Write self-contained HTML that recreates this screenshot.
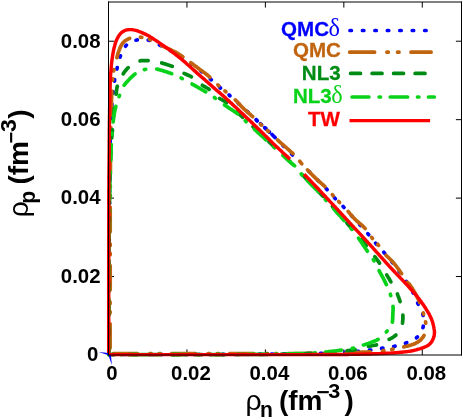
<!DOCTYPE html>
<html><head><meta charset="utf-8"><title>spinodal</title>
<style>html,body{margin:0;padding:0;background:#fff;}svg{display:block}text{font-family:"Liberation Sans",sans-serif;font-weight:bold}</style>
</head><body><div style="will-change:transform;width:463px;height:420px">
<svg width="463" height="420" viewBox="0 0 463 420">
<rect width="463" height="420" fill="#fff"/>
<g stroke="#000" stroke-width="1" fill="none">
<line x1="186.94" y1="355.0" x2="186.94" y2="349.4"/>
<line x1="186.94" y1="2.0" x2="186.94" y2="7.6"/>
<line x1="108.5" y1="276.56" x2="114.0" y2="276.56"/>
<line x1="461.5" y1="276.56" x2="455.9" y2="276.56"/>
<line x1="265.39" y1="355.0" x2="265.39" y2="349.4"/>
<line x1="265.39" y1="2.0" x2="265.39" y2="7.6"/>
<line x1="108.5" y1="198.11" x2="114.0" y2="198.11"/>
<line x1="461.5" y1="198.11" x2="455.9" y2="198.11"/>
<line x1="343.83" y1="355.0" x2="343.83" y2="349.4"/>
<line x1="343.83" y1="2.0" x2="343.83" y2="7.6"/>
<line x1="108.5" y1="119.67" x2="114.0" y2="119.67"/>
<line x1="461.5" y1="119.67" x2="455.9" y2="119.67"/>
<line x1="422.28" y1="355.0" x2="422.28" y2="349.4"/>
<line x1="422.28" y1="2.0" x2="422.28" y2="7.6"/>
<line x1="108.5" y1="41.22" x2="114.0" y2="41.22"/>
<line x1="461.5" y1="41.22" x2="455.9" y2="41.22"/>
</g>
<g fill="none" stroke-width="3.7" stroke-linecap="round" stroke-linejoin="round">
<path d="M109.0,354.5 L109.0,352.4 L109.0,351.2 L109.0,349.9 L109.0,348.5 L109.0,347.0 L109.0,345.4 L109.0,343.8 L109.0,342.0 L109.0,340.2 L109.0,338.3 L109.0,336.4 L109.0,334.4 L109.0,332.4 L109.0,330.4 L109.0,328.3 L109.0,326.2 L109.0,324.1 L109.0,322.0 L109.0,319.9 L109.0,317.7 L109.0,315.6 L109.0,313.5 L109.0,311.5 L109.0,309.5 L109.0,307.5 L109.0,305.5 L109.0,303.6 L109.0,301.8 L109.0,300.0 L109.0,298.3 L109.0,296.6 L109.0,294.9 L109.0,293.2 L109.0,291.5 L109.0,289.9 L109.0,288.2 L109.0,286.6 L109.0,285.0 L109.0,283.4 L109.0,281.8 L109.0,280.2 L109.0,278.6 L109.0,276.9 L109.0,275.3 L109.0,273.7 L109.0,272.1 L109.0,270.5 L109.0,268.9 L109.0,267.2 L109.0,265.6 L109.0,263.9 L109.0,262.3 L109.1,260.6 L109.1,258.9 L109.1,257.1 L109.1,255.4 L109.1,253.6 L109.1,251.8 L109.1,250.0 L109.1,248.1 L109.1,246.2 L109.1,244.3 L109.1,242.3 L109.2,240.3 L109.2,238.3 L109.2,236.3 L109.2,234.2 L109.2,232.1 L109.2,230.0 L109.3,227.9 L109.3,225.8 L109.3,223.6 L109.3,221.5 L109.3,219.4 L109.4,217.3 L109.4,215.1 L109.4,213.0 L109.4,211.0 L109.4,208.9 L109.4,206.8 L109.5,204.8 L109.5,202.8 L109.5,200.9 L109.5,199.0 L109.5,197.1 L109.6,195.2 L109.6,193.4 L109.6,191.7 L109.6,190.0 L109.6,188.4 L109.6,186.8 L109.6,185.2 L109.6,183.7 L109.7,182.2 L109.7,180.7 L109.7,179.3 L109.7,177.9 L109.7,176.5 L109.7,175.2 L109.7,173.9 L109.7,172.6 L109.7,171.3 L109.7,170.0 L109.7,168.8 L109.7,167.5 L109.8,166.3 L109.8,165.0 L109.8,163.8 L109.8,162.6 L109.8,161.4 L109.8,160.1 L109.8,158.9 L109.9,157.7 L109.9,156.4 L109.9,155.2 L109.9,153.9 L109.9,152.6 L110.0,151.3 L110.0,150.0 L110.0,148.7 L110.1,147.3 L110.1,146.0 L110.1,144.6 L110.2,143.2 L110.2,141.8 L110.2,140.4 L110.3,139.1 L110.3,137.7 L110.4,136.3 L110.4,134.9 L110.4,133.5 L110.5,132.1 L110.5,130.7 L110.6,129.3 L110.6,127.9 L110.7,126.6 L110.7,125.2 L110.8,123.9 L110.8,122.5 L110.9,121.2 L111.0,119.9 L111.0,118.6 L111.1,117.3 L111.2,116.0 L111.2,114.8 L111.3,113.6 L111.4,112.4 L111.4,111.2 L111.5,110.0 L111.6,108.8 L111.7,107.7 L111.7,106.6 L111.8,105.4 L111.9,104.3 L112.0,103.2 L112.1,102.1 L112.2,101.0 L112.3,99.9 L112.4,98.8 L112.5,97.8 L112.6,96.7 L112.7,95.7 L112.8,94.7 L112.9,93.7 L113.2,91.7 L113.4,89.8 L113.6,88.0 L113.8,86.2 L114.0,84.6 L114.2,83.0 L114.4,81.5 L114.6,80.1 L114.8,78.9 L114.9,77.8 L115.1,76.8 L115.3,75.5 L115.6,74.4 L115.8,73.4 L116.1,72.1 L116.5,70.9 L116.7,69.8 L117.0,68.7 L117.3,67.5 L117.6,66.2 L117.9,64.9 L118.2,63.7 L118.5,62.4 L118.8,61.1 L119.1,59.9 L119.5,58.7 L119.9,57.5 L120.3,56.3 L120.7,55.2 L121.2,54.0 L121.6,52.9 L122.1,51.7 L122.6,50.6 L123.1,49.6 L123.7,48.5 L124.3,47.6 L125.0,46.7 L125.8,45.8 L126.7,45.0 L127.6,44.2 L128.6,43.5 L129.7,42.8 L130.8,42.2 L132.0,41.7 L133.1,41.1 L134.3,40.7 L135.5,40.3 L136.7,40.0 L137.9,39.8 L139.1,39.6 L140.4,39.5 L141.7,39.5 L143.0,39.5 L144.2,39.5 L145.5,39.7 L146.8,39.8 L148.0,40.1 L149.2,40.3 L150.3,40.6 L151.3,40.9 L152.5,41.4 L153.6,41.9 L154.6,42.4 L155.6,42.9 L156.7,43.5 L158.0,44.2 L158.9,44.7 L160.0,45.3 L161.2,45.9 L162.5,46.6 L163.9,47.3 L165.4,48.0 L167.0,48.8 L168.6,49.6 L170.2,50.5 L171.9,51.3 L173.6,52.2 L175.3,53.1 L176.9,54.0 L178.5,54.9 L180.1,55.8 L181.6,56.6 L183.0,57.5 L184.4,58.4 L185.7,59.3 L187.0,60.2 L188.3,61.1 L189.6,62.0 L190.8,63.0 L192.1,63.9 L193.3,64.8 L194.5,65.7 L195.6,66.7 L196.7,67.5 L197.8,68.4 L198.8,69.2 L199.8,70.0 L200.8,70.8 L201.7,71.5 L202.6,72.2 L203.4,72.9 L204.5,73.8 L205.5,74.7 L206.5,75.6 L207.5,76.4 L208.4,77.2 L209.3,78.0 L210.2,78.9 L211.2,79.7 L212.2,80.6 L213.1,81.4 L214.1,82.3 L215.0,83.1 L215.9,83.9 L216.8,84.8 L217.8,85.6 L218.7,86.4 L219.6,87.2 L220.5,88.0 L221.3,88.7 L222.3,89.4 L223.1,90.1 L224.0,90.7 L225.0,91.5 L226.0,92.3 L227.1,93.3 L228.1,94.1 L229.1,95.0 L230.3,96.1 L231.7,97.3 L232.5,98.0 L233.3,98.7 L234.1,99.5 L235.0,100.3 L235.9,101.1 L236.8,102.0 L237.8,102.9 L238.8,103.8 L239.8,104.7 L240.8,105.6 L241.8,106.5 L242.8,107.4 L243.8,108.4 L244.8,109.3 L245.9,110.3 L246.9,111.2 L247.9,112.1 L248.9,113.1 L249.8,114.0 L250.8,114.8 L251.7,115.7 L252.6,116.6 L253.5,117.4 L254.4,118.2 L255.2,118.9 L256.0,119.6 L256.7,120.3 L258.0,121.5 L259.2,122.6 L260.3,123.6 L261.3,124.5 L262.1,125.3 L263.0,126.0 L263.8,126.8 L264.6,127.5 L265.5,128.3 L266.4,129.1 L267.3,130.0 L268.4,131.0 L269.6,132.2 L271.0,133.5 L271.7,134.2 L272.5,135.0 L273.3,135.8 L274.2,136.7 L275.2,137.6 L276.2,138.6 L277.2,139.6 L278.2,140.7 L279.3,141.7 L280.4,142.8 L281.6,144.0 L282.7,145.2 L283.9,146.3 L285.1,147.5 L286.3,148.8 L287.6,150.0 L288.8,151.2 L290.0,152.4 L291.2,153.7 L292.5,154.9 L293.7,156.2 L294.9,157.4 L296.1,158.6 L297.3,159.8 L297.5,160.0" stroke="#0000ff" stroke-dasharray="1.40 10.90" stroke-dashoffset="9.20"/>
<path d="M301.7,164.2 L302.9,165.4 L303.9,166.4 L304.9,167.4 L305.8,168.3 L306.7,169.2 L307.6,170.1 L308.5,171.0 L309.4,171.9 L310.3,172.8 L311.1,173.6 L312.0,174.5 L312.8,175.3 L313.6,176.1 L314.4,176.9 L315.2,177.7 L316.0,178.5 L316.8,179.3 L317.6,180.0 L318.3,180.8 L319.0,181.5 L319.8,182.2 L321.1,183.6 L322.5,184.9 L323.7,186.2 L324.9,187.3 L326.0,188.5 L327.0,189.5 L328.0,190.5 L328.8,191.3 L329.5,192.1 L330.3,193.0 L331.0,193.8 L331.7,194.6 L332.4,195.5 L333.2,196.4 L334.0,197.2 L334.7,198.0 L335.5,198.8 L336.2,199.5 L337.0,200.2 L337.9,201.1 L338.7,201.9 L339.7,202.9 L340.5,203.7 L341.5,204.7 L342.5,205.8 L343.7,207.1 L344.4,207.9 L345.1,208.6 L345.9,209.5 L346.7,210.4 L347.6,211.3 L348.4,212.2 L349.3,213.2 L350.2,214.2 L351.2,215.3 L352.1,216.3 L353.1,217.4 L354.1,218.4 L355.1,219.5 L356.0,220.6 L357.0,221.6 L358.0,222.7 L358.9,223.7 L359.8,224.8 L360.8,225.8 L361.7,226.8 L362.5,227.7 L363.4,228.7 L364.2,229.6 L364.9,230.4 L365.6,231.2 L366.3,232.0 L367.5,233.3 L368.5,234.4 L369.4,235.4 L370.1,236.3 L371.0,237.4 L371.7,238.3 L372.5,239.3 L373.1,240.1 L373.7,241.0 L374.5,241.9 L375.3,242.8 L376.1,243.7 L376.9,244.6 L377.7,245.5 L378.5,246.4 L379.4,247.3 L380.2,248.2 L381.0,249.2 L381.9,250.1 L382.7,251.1 L383.6,252.0 L384.4,253.0 L385.3,254.0 L386.2,255.0 L387.1,256.1 L388.0,257.1 L388.8,258.2 L389.7,259.2 L390.6,260.3 L391.4,261.3 L392.3,262.3 L393.1,263.4 L393.9,264.4 L394.7,265.4 L395.5,266.5 L396.3,267.5 L397.1,268.6 L397.9,269.6 L398.7,270.7 L399.5,271.8 L400.3,272.9 L401.1,274.0 L401.9,275.2 L402.8,276.3 L403.6,277.5 L404.4,278.7 L405.3,279.9 L406.0,281.1 L406.8,282.2 L407.5,283.3 L408.2,284.3 L408.9,285.4 L409.5,286.4 L410.1,287.3 L410.6,288.3 L411.2,289.2 L411.7,290.1 L412.2,291.0 L412.7,291.9 L413.2,292.9 L413.7,293.8 L414.1,294.7 L414.7,295.9 L415.2,297.1 L415.7,298.3 L416.2,299.6 L416.6,300.5 L417.0,301.5 L417.4,302.5 L417.9,303.6 L418.5,304.8 L419.1,305.9 L419.7,307.1 L420.3,308.4 L420.9,309.6 L421.5,310.8 L422.1,312.1 L422.5,313.3 L422.9,314.5 L423.2,315.7 L423.4,316.8 L423.6,318.0 L423.7,319.2 L423.8,320.3 L423.9,321.5 L423.8,322.6 L423.7,323.7 L423.6,324.8 L423.4,325.9 L423.1,327.0 L422.8,328.2 L422.4,329.3 L421.9,330.4 L421.4,331.5 L420.8,332.6 L420.1,333.7 L419.4,334.7 L418.7,335.6 L417.9,336.5 L417.0,337.3 L416.0,338.1 L415.0,338.8 L413.9,339.5 L412.7,340.1 L411.5,340.7 L410.2,341.2 L409.0,341.8 L407.8,342.3 L406.6,342.7 L405.4,343.2 L404.3,343.6 L403.1,344.0 L401.9,344.4 L400.7,344.8 L399.5,345.1 L398.4,345.4 L397.2,345.7 L396.0,345.9 L394.8,346.2 L393.6,346.5 L392.4,346.7 L391.2,346.9 L390.0,347.1 L388.8,347.3 L387.6,347.5 L386.4,347.6 L385.2,347.8 L384.0,348.0 L382.8,348.1 L381.6,348.3 L380.6,348.5 L379.6,348.7 L378.3,348.9 L377.3,349.1 L376.2,349.3 L375.1,349.4 L373.9,349.6 L372.5,349.8 L371.5,349.9 L370.5,350.1 L369.3,350.2 L368.2,350.3 L366.9,350.5 L365.7,350.6 L364.4,350.7 L363.0,350.9 L361.7,351.0 L360.2,351.2 L358.8,351.3 L357.3,351.4 L355.7,351.6 L354.1,351.7 L352.5,351.8 L350.8,351.9 L349.2,352.1 L347.5,352.2 L346.0,352.3 L344.5,352.4 L342.9,352.5 L341.4,352.6 L339.8,352.7 L338.1,352.8 L336.3,352.9 L334.3,352.9 L333.3,353.0 L332.2,353.0 L331.1,353.1 L329.9,353.1 L328.7,353.2 L327.4,353.2 L326.1,353.2 L324.7,353.3 L323.2,353.3 L321.6,353.4 L320.0,353.4 L318.3,353.4 L316.5,353.5 L314.6,353.5 L312.7,353.6 L310.6,353.6 L308.6,353.6 L306.4,353.7 L304.2,353.7 L301.9,353.7 L299.6,353.8 L297.3,353.8 L294.9,353.8 L292.4,353.9 L290.0,353.9 L287.5,353.9 L285.0,354.0 L282.5,354.0 L279.9,354.0 L277.4,354.0 L274.8,354.1 L272.3,354.1 L269.7,354.1 L267.2,354.1 L264.6,354.2 L262.1,354.2 L259.6,354.2 L257.2,354.2 L254.7,354.3 L252.4,354.3 L250.0,354.3 L247.7,354.3 L245.3,354.3 L243.0,354.3 L240.7,354.4 L238.3,354.4 L236.0,354.4 L233.7,354.4 L231.4,354.4 L229.0,354.4 L226.7,354.4 L224.4,354.4 L222.0,354.4 L219.7,354.4 L217.4,354.5 L215.1,354.5 L212.7,354.5 L210.4,354.5 L208.1,354.5 L205.7,354.5 L203.4,354.5 L201.1,354.5 L198.7,354.5 L196.4,354.5 L194.1,354.5 L191.7,354.5 L189.4,354.5 L187.0,354.5 L184.7,354.5 L182.3,354.5 L180.0,354.5 L177.6,354.5 L175.1,354.5 L172.6,354.5 L170.0,354.5 L167.4,354.5 L164.7,354.5 L162.0,354.5 L159.3,354.5 L156.5,354.5 L153.8,354.5 L151.0,354.5 L148.3,354.5 L145.5,354.5 L142.8,354.5 L140.1,354.5 L137.5,354.5 L134.9,354.5 L132.3,354.5 L129.9,354.5 L127.4,354.5 L125.1,354.5 L122.9,354.5 L120.7,354.5 L118.7,354.5 L116.7,354.5 L114.9,354.5 L113.2,354.5 L111.7,354.5 L110.3,354.5 L109.0,354.5" stroke="#0000ff" stroke-dasharray="1.40 10.87" stroke-dashoffset="2.20"/>
<path d="M256.2,119.8 L257.2,120.8 M260.5,123.8 L261.5,124.7 M264.7,127.6 L265.7,128.5 M268.4,131.1 L269.4,132.0 M272.0,134.5 L273.0,135.5" stroke="#0000ff"/>
<path d="M110.2,353.6 L110.1,351.6 L110.1,350.4 L110.1,349.1 L110.1,347.7 L110.1,346.3 L110.1,344.7 L110.1,343.1 L110.1,341.3 L110.1,339.6 L110.1,337.7 L110.1,335.8 L110.1,333.9 L110.1,331.9 L110.1,329.9 L110.1,327.9 L110.1,325.8 L110.1,323.8 L110.1,321.7 L110.1,319.6 L110.1,317.5 L110.1,315.4 L110.1,313.4 L110.1,311.3 L110.1,309.3 L110.1,307.4 L110.1,305.5 L110.1,303.6 L110.1,301.8 L110.2,300.0 L110.2,298.3 L110.2,296.6 L110.2,294.9 L110.2,293.2 L110.2,291.6 L110.2,289.9 L110.2,288.3 L110.2,286.7 L110.2,285.1 L110.2,283.4 L110.2,281.8 L110.2,280.2 L110.2,278.6 L110.2,277.0 L110.2,275.4 L110.2,273.8 L110.2,272.2 L110.2,270.5 L110.2,268.9 L110.2,267.3 L110.2,265.6 L110.2,264.0 L110.2,262.3 L110.2,260.6 L110.2,258.9 L110.2,257.1 L110.2,255.4 L110.2,253.6 L110.2,251.8 L110.2,250.0 L110.2,248.1 L110.2,246.2 L110.2,244.3 L110.2,242.3 L110.2,240.3 L110.2,238.3 L110.2,236.3 L110.2,234.2 L110.2,232.1 L110.2,230.0 L110.2,227.9 L110.2,225.8 L110.2,223.6 L110.2,221.5 L110.2,219.4 L110.2,217.3 L110.2,215.1 L110.2,213.0 L110.2,211.0 L110.2,208.9 L110.3,206.8 L110.3,204.8 L110.3,202.8 L110.3,200.9 L110.3,199.0 L110.3,197.1 L110.3,195.2 L110.3,193.4 L110.3,191.7 L110.3,190.0 L110.3,188.4 L110.3,186.8 L110.3,185.2 L110.3,183.7 L110.3,182.3 L110.3,180.9 L110.3,179.5 L110.4,178.2 L110.4,176.8 L110.4,175.6 L110.4,174.3 L110.4,173.0 L110.4,171.8 L110.4,170.6 L110.4,169.4 L110.4,168.2 L110.4,167.0 L110.4,165.8 L110.4,164.6 L110.4,163.3 L110.5,162.1 L110.5,160.9 L110.5,159.6 L110.5,158.3 L110.5,157.0 L110.5,155.7 L110.5,154.3 L110.6,152.9 L110.6,151.5 L110.6,150.0 L110.6,148.5 L110.6,146.9 L110.7,145.3 L110.7,143.6 L110.7,141.9 L110.7,140.1 L110.8,138.3 L110.8,136.5 L110.8,134.7 L110.9,132.9 L110.9,131.0 L110.9,129.2 L110.9,127.3 L111.0,125.4 L111.0,123.6 L111.0,121.8 L111.1,119.9 L111.1,118.1 L111.1,116.4 L111.2,114.6 L111.2,112.9 L111.2,111.3 L111.3,109.6 L111.3,108.1 L111.3,106.6 L111.4,105.1 L111.4,103.7 L111.4,102.4 L111.5,101.2 L111.5,100.0 L111.5,98.9 L111.6,97.9 L111.6,96.0 L111.7,94.3 L111.8,92.8 L111.8,91.5 L111.9,90.3 L112.0,89.3 L112.1,87.9 L112.2,86.6 L112.3,85.4 L112.4,84.2 L112.5,83.0 L112.6,81.6 L112.6,80.3 L112.7,79.2 L112.8,78.1 L112.9,77.1 L113.0,75.8 L113.1,74.5 L113.2,73.5 L113.4,72.4 L113.6,71.3 L113.8,70.2 L114.0,69.0 L114.3,67.8 L114.6,66.6 L114.9,65.4 L115.2,64.2 L115.5,63.0 L115.8,61.9 L116.1,60.7 L116.4,59.6 L116.7,58.6 L116.9,57.5 L117.2,56.4 L117.5,55.4 L117.8,54.4 L118.0,53.4 L118.3,52.4 L118.8,51.2 L119.2,50.0 L119.7,48.9 L120.1,47.7 L120.6,46.7 L121.1,45.7 L121.6,44.7 L122.2,43.8 L122.9,42.9 L123.7,42.1 L124.5,41.3 L125.5,40.6 L126.4,40.0 L127.5,39.4 L128.5,38.9 L129.6,38.4 L130.8,38.0 L132.0,37.7 L133.3,37.4 L134.4,37.3 L135.4,37.2 L136.4,37.2 L137.5,37.1 L138.5,37.1 L139.5,37.1 L140.8,37.2 L142.0,37.3 L143.1,37.4 L144.2,37.6 L145.2,37.9 L146.3,38.1 L147.4,38.5 L148.6,39.0 L149.5,39.3 L150.5,39.8 L151.4,40.3 L152.4,40.8 L153.4,41.3 L154.4,41.9 L155.5,42.6 L156.6,43.2 L157.8,43.9 L159.1,44.5 L160.0,45.0 L160.9,45.5 L162.0,45.9 L163.0,46.4 L164.1,46.9 L165.3,47.4 L166.4,47.9 L167.6,48.4 L168.8,48.9 L170.0,49.5 L171.2,50.0 L172.3,50.6 L173.5,51.1 L174.6,51.7 L175.7,52.2 L176.7,52.8 L177.7,53.4 L178.7,54.0 L179.7,54.6 L180.6,55.3 L181.6,55.9 L182.5,56.6 L183.4,57.3 L184.3,57.9 L184.4,58.0" stroke="#c0640f" stroke-dasharray="24.20 10.90 1.40 7.90 1.40 12.40" stroke-dashoffset="52.62"/>
<path d="M190.7,62.7 L191.7,63.4 L192.5,64.0 L193.3,64.6 L194.4,65.4 L195.3,66.1 L196.4,66.8 L197.4,67.6 L198.3,68.3 L199.2,69.0 L200.2,69.7 L201.2,70.4 L202.2,71.1 L203.2,71.9 L204.2,72.6 L205.3,73.4 L206.3,74.2 L207.3,75.0 L208.3,75.8 L209.3,76.7 L210.3,77.6 L211.3,78.5 L212.3,79.5 L213.3,80.5 L214.3,81.4 L215.2,82.4 L216.2,83.3 L217.1,84.2 L218.0,85.0 L218.9,85.8 L219.7,86.5 L220.5,87.2 L221.2,87.8 L222.2,88.7 L223.2,89.5 L224.2,90.4 L225.0,91.0 L225.8,91.7 L226.6,92.4 L227.4,93.1 L228.3,93.7 L229.1,94.4 L229.9,95.1 L230.8,95.8 L231.6,96.5 L232.5,97.2 L233.3,98.0 L234.2,98.8 L235.1,99.7 L236.0,100.6 L236.9,101.5 L237.8,102.5 L238.8,103.5 L239.7,104.5 L240.6,105.5 L241.5,106.5 L242.4,107.4 L243.3,108.3 L244.1,109.1 L245.0,109.9 L245.7,110.5 L246.5,111.2 L247.4,112.0 L248.3,112.7 L249.3,113.7 L250.2,114.4 L251.2,115.3 L252.3,116.3 L253.6,117.5 L255.0,118.9 L255.7,119.6 L256.5,120.3 L257.4,121.1 L258.2,121.9 L259.1,122.7 L259.9,123.5 L260.8,124.4 L261.7,125.2 L262.7,126.1 L263.6,126.9 L264.5,127.8 L265.4,128.7 L266.4,129.6 L267.3,130.5 L268.2,131.3 L269.2,132.2 L270.1,133.1 L271.0,133.9 L271.9,134.7 L272.7,135.5 L273.6,136.3 L274.4,137.1 L275.2,137.8 L276.0,138.5 L276.7,139.2 L278.1,140.5 L279.6,141.8 L281.0,143.1 L282.4,144.3 L283.8,145.5 L285.1,146.7 L286.5,147.9 L287.7,149.0 L289.0,150.0 L290.1,151.1 L291.2,152.1 L292.3,153.0 L293.0,153.6" stroke="#c0640f" stroke-dasharray="24.20 10.90 1.40 7.90 1.40 12.40" stroke-dashoffset="0.00"/>
<path d="M299.7,161.3 L300.5,162.2 L301.2,163.1 L301.8,163.8" stroke="#c0640f"/>
<path d="M307.5,169.9 L308.3,170.8 L309.1,171.7 L310.0,172.5 L310.8,173.4 L311.6,174.2 L312.4,175.1 L313.3,175.9 L314.1,176.7 L315.0,177.5 L315.8,178.4 L316.7,179.2 L317.6,180.0 L318.5,180.9 L319.4,181.7 L320.4,182.5 L321.3,183.4 L322.2,184.2 L323.2,185.0 L324.1,185.8 L325.0,186.7 L325.8,187.5 L326.6,188.3 L327.4,189.2 L328.2,190.0 L329.0,190.9 L329.7,191.8 L330.5,192.6 L331.2,193.4 L331.9,194.2 L332.6,195.0 L333.3,195.8 L334.2,196.8 L335.0,197.7 L335.9,198.5 L336.7,199.4 L337.5,200.2 L338.3,201.1 L339.2,202.0 L339.9,202.8 L340.7,203.5 L341.4,204.3 L342.2,205.1 L343.0,206.0 L343.8,206.8 L344.6,207.7 L345.4,208.5 L346.2,209.4 L347.0,210.2 L347.8,211.1 L348.5,211.9 L349.2,212.7 L349.9,213.6 L350.6,214.4 L351.4,215.2 L352.1,216.1 L352.8,216.9 L353.6,217.8 L354.4,218.6 L355.3,219.5 L356.2,220.4 L357.2,221.3 L358.3,222.2 L359.3,223.1 L360.4,224.0 L361.5,224.9 L362.5,225.8 L363.5,226.8 L364.4,227.7 L365.3,228.6 L366.1,229.5 L366.8,230.5 L367.5,231.4 L368.1,232.4 L368.8,233.3 L369.4,234.2 L370.0,235.2 L370.6,236.1 L371.3,236.9 L371.9,237.8 L372.6,238.6 L373.3,239.3 L373.9,240.1 L374.8,241.1 L375.7,242.0 L376.6,243.0 L377.5,244.0 L378.3,245.0 L379.1,246.1 L379.8,247.1 L380.6,248.2 L381.3,249.3 L381.8,250.2 L382.4,251.0 L383.0,251.9 L383.7,252.7 L384.5,253.6 L385.3,254.5 L386.1,255.4 L387.1,256.3 L388.0,257.2 L389.0,258.1 L389.9,259.0 L390.9,260.0 L391.8,260.9 L392.7,261.9 L393.6,262.8 L394.4,263.8 L395.2,264.8 L396.0,265.8 L396.7,266.8 L397.5,267.8 L398.2,268.9 L399.0,269.9 L399.7,270.9 L400.3,271.9 L401.0,272.8 L401.7,273.8 L402.3,274.7" stroke="#c0640f" stroke-dasharray="24.20 10.90 1.40 7.90 1.40 12.40" stroke-dashoffset="0.00"/>
<path d="M407.1,282.2 L407.8,283.0 L408.7,283.6 L409.5,284.4 L410.1,285.2 L410.7,286.0 L411.4,287.0 L412.1,288.1 L412.8,289.2 L413.3,290.1 L413.8,291.0 L414.3,291.8 L415.0,293.0 L415.6,294.1 L416.3,295.3 L416.9,296.5 L417.3,297.4 L417.8,298.3 L418.2,299.2 L418.7,300.1 L419.1,301.0 L419.5,302.0 L419.9,303.0 L420.3,304.0 L420.7,305.1 L421.0,306.1 L421.4,307.2 L421.7,308.3 L422.0,309.3 L422.4,310.4 L422.7,311.4 L423.0,312.4 L423.3,313.4 L423.7,314.6 L424.1,315.8 L424.5,316.9 L424.9,318.1 L425.2,319.3 L425.5,320.5 L425.6,321.8 L425.7,322.9 L425.8,324.0 L425.8,325.1 L425.9,326.3 L425.8,327.4 L425.8,328.6 L425.7,329.7 L425.6,330.8 L425.4,331.8 L425.0,333.0 L424.6,334.2 L424.1,335.3 L423.5,336.4 L422.8,337.3 L422.1,338.3 L421.3,339.2 L420.5,340.0 L419.6,340.8 L418.7,341.4 L417.8,342.1 L416.7,342.7 L415.7,343.2 L414.6,343.7 L413.5,344.2 L412.3,344.6 L411.2,345.0 L409.9,345.4 L408.7,345.7 L407.4,346.1 L406.4,346.3 L405.4,346.5 L404.4,346.8 L403.3,347.0 L402.2,347.3 L401.0,347.5 L399.7,347.8 L398.5,348.1 L397.2,348.3 L395.9,348.6 L394.6,348.8 L393.4,349.1 L392.1,349.3 L391.0,349.5 L389.9,349.7 L388.6,349.9 L387.4,350.1 L386.2,350.3 L385.0,350.4 L383.7,350.6 L382.6,350.7 L381.4,350.9 L380.1,351.0 L378.8,351.1 L377.4,351.2 L376.0,351.4 L374.5,351.5 L373.4,351.6 L372.3,351.7 L371.2,351.7 L370.1,351.8 L368.9,351.9 L367.6,352.0 L366.3,352.0 L365.0,352.1 L363.6,352.2 L362.2,352.2 L360.8,352.3 L359.4,352.4 L357.9,352.4 L356.4,352.5 L354.8,352.6 L353.2,352.6 L351.5,352.7 L349.8,352.7 L348.0,352.8 L346.1,352.9 L344.2,352.9 L343.1,352.9 L342.1,353.0 L341.1,353.0 L340.0,353.0 L338.9,353.0 L337.8,353.0 L336.7,353.1 L335.5,353.1 L334.3,353.1 L333.1,353.1 L331.9,353.2 L330.7,353.2 L329.4,353.2 L328.1,353.2 L326.9,353.2 L325.6,353.2 L324.2,353.3 L322.9,353.3 L321.6,353.3 L320.2,353.3 L318.8,353.3 L317.4,353.3 L316.0,353.4 L314.6,353.4 L313.2,353.4 L311.8,353.4 L310.3,353.4 L308.9,353.4 L307.4,353.4 L305.9,353.5 L304.5,353.5 L303.0,353.5 L301.5,353.5 L300.0,353.5 L298.5,353.5 L297.0,353.5 L295.5,353.5 L294.0,353.5 L292.5,353.5 L291.0,353.5 L289.4,353.6 L287.9,353.6 L286.4,353.6 L284.8,353.6 L283.3,353.6 L281.7,353.6 L280.1,353.6 L278.5,353.6 L276.9,353.6 L275.2,353.6 L273.6,353.6 L271.9,353.6 L270.2,353.6 L268.5,353.6 L266.8,353.6 L265.0,353.6 L263.2,353.6 L261.4,353.6 L259.6,353.6 L257.7,353.6 L255.9,353.6 L253.9,353.6 L252.0,353.6 L250.0,353.6 L248.0,353.6 L245.9,353.6 L243.8,353.6 L241.7,353.6 L239.5,353.6 L237.3,353.6 L235.0,353.6 L232.8,353.6 L230.5,353.6 L228.1,353.6 L225.8,353.6 L223.4,353.6 L221.1,353.6 L218.7,353.6 L216.2,353.6 L213.8,353.6 L211.4,353.6 L208.9,353.6 L206.5,353.6 L204.1,353.6 L201.6,353.6 L199.2,353.6 L196.7,353.6 L194.3,353.6 L191.9,353.6 L189.5,353.6 L187.1,353.6 L184.7,353.6 L182.3,353.6 L180.0,353.6 L177.6,353.6 L175.2,353.6 L172.7,353.6 L170.1,353.6 L167.5,353.6 L164.9,353.6 L162.2,353.6 L159.5,353.6 L156.8,353.6 L154.1,353.6 L151.4,353.6 L148.7,353.6 L146.0,353.6 L143.3,353.6 L140.7,353.6 L138.1,353.6 L135.6,353.6 L133.1,353.6 L130.6,353.6 L128.3,353.6 L126.0,353.6 L123.8,353.6 L121.7,353.6 L119.6,353.6 L117.7,353.6 L116.0,353.6 L114.3,353.6 L112.8,353.6 L111.4,353.6 L110.2,353.6" stroke="#c0640f" stroke-dasharray="24.20 10.90 1.40 7.90 1.40 12.40" stroke-dashoffset="0.00"/>
<path d="M108.9,354.6 L108.9,352.5 L108.9,351.3 L108.9,350.0 L108.9,348.6 L108.9,347.1 L108.9,345.5 L108.9,343.8 L108.9,342.1 L108.9,340.3 L108.9,338.4 L108.9,336.5 L108.9,334.5 L108.9,332.5 L108.9,330.4 L108.9,328.3 L108.9,326.2 L108.9,324.1 L108.9,322.0 L108.9,319.9 L108.9,317.8 L108.9,315.7 L108.9,313.6 L108.9,311.5 L108.9,309.5 L108.9,307.5 L108.9,305.5 L108.9,303.6 L108.9,301.8 L108.9,300.0 L108.9,298.3 L108.9,296.6 L108.9,294.9 L108.9,293.2 L108.9,291.5 L108.9,289.9 L108.9,288.2 L108.9,286.6 L108.9,285.0 L108.9,283.4 L108.9,281.8 L108.9,280.1 L108.9,278.5 L108.9,276.9 L108.9,275.3 L108.9,273.7 L108.9,272.1 L108.9,270.5 L108.9,268.9 L108.9,267.2 L108.9,265.6 L108.9,263.9 L108.9,262.3 L108.9,260.6 L108.9,258.9 L109.0,257.1 L109.0,255.4 L109.0,253.6 L109.0,251.8 L109.0,250.0 L109.0,248.1 L109.0,246.2 L109.0,244.3 L109.1,242.3 L109.1,240.3 L109.1,238.3 L109.1,236.3 L109.1,234.2 L109.1,232.1 L109.2,230.0 L109.2,227.9 L109.2,225.8 L109.2,223.6 L109.3,221.5 L109.3,219.4 L109.3,217.3 L109.3,215.1 L109.3,213.0 L109.4,211.0 L109.4,208.9 L109.4,206.8 L109.5,204.8 L109.5,202.8 L109.5,200.9 L109.5,199.0 L109.6,197.1 L109.6,195.2 L109.6,193.4 L109.7,191.7 L109.7,190.0 L109.7,188.4 L109.8,186.7 L109.8,185.2 L109.8,183.6 L109.9,182.1 L109.9,180.6 L109.9,179.1 L110.0,177.7 L110.0,176.3 L110.0,174.9 L110.1,173.6 L110.1,172.2 L110.2,170.9 L110.2,169.6 L110.2,168.3 L110.3,167.0 L110.3,165.8 L110.4,164.5 L110.4,163.3 L110.4,162.1 L110.5,160.9 L110.5,159.6 L110.6,158.4 L110.6,157.2 L110.7,156.0 L110.8,154.8 L110.8,153.6 L110.9,152.4 L110.9,151.2 L111.0,150.0 L111.1,148.8 L111.1,147.6 L111.2,146.4 L111.3,145.2 L111.4,144.0 L111.4,142.9 L111.5,141.7 L111.6,140.6 L111.7,139.4 L111.8,138.3 L111.8,137.2 L111.9,136.0 L112.0,134.9 L112.1,133.8 L112.2,132.7 L112.3,131.6 L112.4,130.6 L112.5,129.5 L112.6,128.4 L112.6,127.4 L112.7,126.3 L112.8,125.2 L112.9,124.2 L113.0,123.2 L113.1,122.1 L113.2,121.1 L113.3,120.1 L113.4,119.0 L113.5,118.0 L113.6,117.0 L113.7,116.0 L113.8,114.9 L113.9,113.9 L114.0,112.9 L114.1,111.8 L114.2,110.7 L114.3,109.7 L114.4,108.6 L114.5,107.5 L114.7,106.5 L114.8,105.4 L114.9,104.4 L115.0,103.3 L115.1,102.3 L115.2,101.3 L115.3,100.3 L115.5,98.4 L115.8,96.5 L116.0,94.8 L116.2,93.2 L116.4,91.7 L116.5,90.4 L116.7,89.2 L116.9,87.9 L117.1,86.7 L117.6,86.0 L118.3,85.0 L118.7,83.9 L119.2,82.7 L119.5,81.7 L119.9,80.6 L120.4,79.5 L120.8,78.4 L121.3,77.3 L121.8,76.3 L122.3,75.3 L122.9,74.4 L123.4,73.5 L124.0,72.6 L124.7,71.7 L125.3,70.9 L126.0,70.0 L126.7,69.2 L127.4,68.4 L128.2,67.7 L128.9,66.9 L129.7,66.2 L130.6,65.6 L131.4,64.9 L132.3,64.3 L133.2,63.7 L134.1,63.1 L135.0,62.6 L136.0,62.1 L137.0,61.7 L138.0,61.3 L139.0,61.0 L140.1,60.8 L141.2,60.7 L142.4,60.6 L143.5,60.6 L144.7,60.6 L145.9,60.6 L147.1,60.6 L148.2,60.7 L149.3,60.8 L150.4,60.8 L151.4,60.9 L152.7,61.1 L154.0,61.2 L155.3,61.4 L156.3,61.6 L157.3,61.8 L158.4,62.1 L159.6,62.4 L160.9,62.7 L162.3,63.1 L163.3,63.4 L163.7,63.5" stroke="#008c14" stroke-dasharray="8.10 13.80" stroke-dashoffset="2.12"/>
<path d="M164.6,63.8 L166.0,64.3 L167.1,64.6 L168.2,65.0 L169.3,65.3 L170.4,65.7 L171.4,66.1 L172.4,66.4 L173.3,66.8 L174.6,67.3 L175.7,67.8 L176.7,68.3 L177.7,69.0 L178.6,69.7 L179.5,70.3 L180.3,71.0 L181.2,71.7 L182.2,72.3 L183.1,72.8 L184.0,73.3 L185.0,73.8 L186.1,74.3 L187.1,74.7 L188.2,75.2 L189.2,75.7 L190.2,76.2 L191.2,76.7 L192.2,77.3 L193.1,77.9 L194.0,78.5 L194.8,79.2 L195.6,79.9 L196.4,80.6 L197.2,81.3 L198.0,82.0 L198.8,82.7 L199.7,83.3 L200.5,84.0 L201.4,84.6 L202.3,85.2 L203.2,85.8 L204.1,86.3 L205.1,86.9 L206.0,87.4 L207.0,88.0 L207.9,88.5 L208.8,89.1 L209.7,89.8 L210.6,90.5 L211.4,91.2 L212.3,91.9 L213.1,92.7 L213.9,93.5 L214.7,94.3 L215.5,95.1 L216.3,95.8 L217.2,96.6 L218.0,97.3 L218.9,97.9 L219.7,98.5 L220.8,99.1 L222.0,99.7 L223.1,100.4 L224.0,100.9 L225.0,101.5 L226.0,102.2 L227.1,103.0 L228.3,104.0 L229.1,104.7 L230.0,105.4 L230.9,106.2 L231.8,107.0 L232.7,107.9 L233.7,108.8 L234.6,109.7 L235.6,110.6 L236.6,111.5 L237.6,112.5 L238.6,113.4 L239.6,114.4 L240.7,115.4 L241.7,116.3 L242.7,117.3 L243.8,118.2 L244.9,119.2 L246.0,120.2 L247.1,121.2 L248.2,122.2 L249.3,123.2 L250.4,124.3 L251.5,125.3 L252.7,126.4 L253.8,127.4 L254.9,128.5 L256.1,129.5 L257.2,130.6 L258.3,131.6 L259.4,132.7 L260.5,133.7 L261.7,134.8 L262.8,135.9 L263.9,137.0 L265.1,138.0 L266.2,139.1 L267.3,140.2 L268.4,141.3 L269.6,142.4 L270.7,143.5 L271.8,144.5 L272.9,145.6 L273.9,146.6 L275.0,147.6 L276.1,148.6 L277.1,149.6 L278.1,150.5 L279.2,151.5 L280.2,152.4 L281.2,153.3 L282.2,154.3 L283.2,155.2 L284.2,156.1 L285.2,157.0 L286.2,157.9 L287.2,158.8 L288.1,159.8 L289.1,160.7 L290.0,161.6 L290.9,162.5 L291.8,163.4 L292.7,164.3 L293.2,164.8" stroke="#008c14" stroke-dasharray="8.10 13.80" stroke-dashoffset="0.00"/>
<path d="M297.2,169.3 L298.1,170.2 L298.9,171.1 L299.8,172.1 L300.7,173.0 L301.6,174.0 L302.5,175.0 L303.5,176.0 L304.5,177.0 L305.5,178.1 L306.5,179.1 L307.6,180.2 L308.6,181.3 L309.7,182.4 L310.8,183.5 L311.9,184.6 L313.0,185.7 L314.1,186.9 L315.2,188.0 L316.3,189.1 L317.4,190.3 L318.5,191.4 L319.5,192.6 L320.6,193.7 L321.7,194.9 L322.8,196.1 L323.9,197.3 L325.0,198.5 L326.1,199.7 L327.2,200.9 L328.3,202.1 L329.4,203.3 L330.5,204.5 L331.7,205.7 L332.8,206.9 L333.9,208.2 L335.0,209.4 L336.1,210.6 L337.2,211.9 L338.3,213.2 L339.5,214.5 L340.7,215.8 L341.8,217.2 L343.0,218.5 L344.2,219.8 L345.3,221.1 L346.4,222.4 L347.5,223.7 L348.5,224.9 L349.5,226.0 L350.5,227.1 L351.4,228.1 L352.2,229.1 L353.0,229.9 L353.7,230.7 L354.6,231.8 L355.5,232.8 L356.3,233.7 L357.0,234.5 L357.7,235.4 L358.4,236.2 L359.1,237.1 L359.9,238.0 L360.8,239.0 L361.6,240.0 L362.5,241.0 L363.4,242.1 L364.2,243.1 L365.1,244.1 L365.9,245.1 L366.7,246.1 L367.5,247.1 L368.3,248.0 L369.0,248.9 L369.6,249.7 L370.4,250.7 L371.1,251.6 L371.8,252.6 L372.5,253.5 L373.2,254.5 L374.0,255.5 L374.6,256.4 L375.3,257.2 L375.9,258.2 L376.6,259.1 L377.3,260.0 L378.0,261.0 L378.7,261.9 L379.4,262.9 L380.0,263.8 L380.6,264.7 L381.2,265.6 L381.9,266.7 L382.6,267.8 L383.2,268.8 L383.8,269.9 L384.4,271.0 L385.1,272.1 L385.6,273.0 L386.2,273.9 L386.7,274.9 L387.3,275.9 L387.9,276.9 L388.5,277.9 L389.2,278.9 L389.8,280.0 L390.4,281.0 L391.0,282.0 L391.5,283.0 L392.1,283.9 L392.6,284.9 L393.1,285.8 L393.7,286.6 L394.2,287.5 L394.7,288.4 L395.2,289.3 L395.6,290.2 L396.1,291.1 L396.6,292.1 L397.0,293.1 L397.4,294.1 L397.8,295.1 L398.2,296.2 L398.6,297.2 L399.0,298.3 L399.4,299.4 L399.7,300.4 L400.1,301.5 L400.4,302.6 L400.7,303.6 L401.0,304.6 L401.3,305.7 L401.6,306.7 L401.9,307.7 L402.1,308.7 L402.3,309.8 L402.5,310.8 L402.7,311.9 L402.8,312.9 L402.8,314.0 L402.9,315.2 L402.9,316.3 L402.9,317.5 L402.9,318.7 L402.8,319.9 L402.7,321.1 L402.6,322.2 L402.4,323.4 L402.1,324.4 L401.8,325.5 L401.4,326.5 L401.0,327.6 L400.5,328.6 L400.0,329.6 L399.5,330.6 L398.9,331.5 L398.3,332.4 L397.6,333.2 L396.9,334.0 L396.2,334.8 L395.5,335.5 L394.6,336.1 L393.8,336.7 L392.9,337.3 L392.0,337.8 L391.1,338.3 L390.1,338.8 L389.2,339.3 L388.3,339.8 L387.4,340.3 L386.5,340.8 L385.6,341.3 L384.7,341.8 L383.8,342.2 L382.9,342.6 L382.0,343.1 L381.0,343.5 L380.1,343.8 L379.0,344.2 L378.0,344.5 L376.9,344.8 L375.7,345.1 L374.5,345.3 L373.3,345.5 L372.1,345.7 L370.8,346.0 L369.6,346.2 L368.5,346.4 L367.4,346.6 L366.3,346.9 L365.3,347.1 L364.3,347.4 L363.1,347.8 L361.8,348.1 L360.6,348.5 L359.3,348.8 L358.3,349.1 L357.3,349.3 L356.3,349.5 L355.0,349.7 L353.8,349.9 L352.5,350.1 L351.4,350.3 L350.3,350.4 L349.0,350.6 L347.4,350.7 L346.3,350.8 L345.1,351.0 L343.7,351.1 L342.3,351.2 L340.8,351.4 L339.2,351.5 L337.5,351.6 L335.8,351.8 L334.0,351.9 L332.2,352.1 L330.3,352.2 L328.5,352.4 L326.6,352.5 L324.7,352.6 L322.8,352.7 L320.9,352.8 L319.1,352.9 L317.2,353.0 L315.4,353.1 L313.5,353.2 L311.6,353.3 L309.7,353.4 L307.8,353.4 L305.9,353.5 L303.9,353.5 L301.9,353.6 L300.9,353.6 L299.9,353.7 L298.8,353.7 L297.8,353.7 L296.7,353.7 L295.6,353.8 L294.5,353.8 L293.4,353.8 L292.3,353.8 L291.2,353.9 L290.0,353.9 L288.8,353.9 L287.7,354.0 L286.5,354.0 L285.4,354.0 L284.3,354.0 L283.1,354.1 L282.0,354.1 L280.8,354.1 L279.7,354.1 L278.5,354.1 L277.3,354.2 L276.2,354.2 L275.0,354.2 L273.7,354.2 L272.5,354.3 L271.2,354.3 L270.0,354.3 L268.6,354.3 L267.3,354.3 L265.9,354.4 L264.5,354.4 L263.1,354.4 L261.6,354.4 L260.1,354.4 L258.5,354.4 L256.9,354.4 L255.3,354.5 L253.6,354.5 L251.8,354.5 L250.0,354.5 L248.1,354.5 L246.2,354.5 L244.2,354.5 L242.2,354.5 L240.1,354.5 L237.9,354.6 L235.7,354.6 L233.5,354.6 L231.2,354.6 L228.9,354.6 L226.6,354.6 L224.2,354.6 L221.8,354.6 L219.4,354.6 L216.9,354.6 L214.5,354.6 L212.0,354.6 L209.5,354.6 L207.0,354.6 L204.5,354.6 L202.0,354.6 L199.5,354.6 L197.0,354.6 L194.6,354.6 L192.1,354.6 L189.6,354.6 L187.2,354.6 L184.8,354.6 L182.4,354.6 L180.0,354.6 L177.6,354.6 L175.1,354.6 L172.6,354.6 L170.0,354.6 L167.4,354.6 L164.7,354.6 L162.0,354.6 L159.3,354.6 L156.5,354.6 L153.7,354.6 L151.0,354.6 L148.2,354.6 L145.5,354.6 L142.8,354.6 L140.1,354.6 L137.4,354.6 L134.8,354.6 L132.3,354.6 L129.8,354.6 L127.4,354.6 L125.0,354.6 L122.8,354.6 L120.6,354.6 L118.6,354.6 L116.6,354.6 L114.8,354.6 L113.1,354.6 L111.6,354.6 L110.2,354.6 L108.9,354.6" stroke="#008c14" stroke-dasharray="8.10 13.80" stroke-dashoffset="14.50"/>
<path d="M108.9,354.6 L108.9,352.5 L108.9,351.3 L108.9,350.0 L108.9,348.6 L108.9,347.1 L108.9,345.5 L108.9,343.8 L108.9,342.1 L108.9,340.3 L108.9,338.4 L108.9,336.5 L108.9,334.5 L108.9,332.5 L108.9,330.4 L108.9,328.3 L108.9,326.2 L108.9,324.1 L108.9,322.0 L108.9,319.9 L108.9,317.8 L108.9,315.7 L108.9,313.6 L108.9,311.5 L108.9,309.5 L108.9,307.5 L108.9,305.5 L108.9,303.6 L108.9,301.8 L108.9,300.0 L108.9,298.3 L108.9,296.6 L108.9,294.9 L108.9,293.2 L108.9,291.5 L108.9,289.9 L108.9,288.2 L108.9,286.6 L108.9,285.0 L108.9,283.4 L108.9,281.8 L108.9,280.1 L108.9,278.5 L108.9,276.9 L108.9,275.3 L108.9,273.7 L108.9,272.1 L108.9,270.5 L108.9,268.9 L108.9,267.2 L108.9,265.6 L108.9,263.9 L108.9,262.3 L108.9,260.6 L108.9,258.9 L109.0,257.1 L109.0,255.4 L109.0,253.6 L109.0,251.8 L109.0,250.0 L109.0,248.1 L109.0,246.2 L109.0,244.3 L109.1,242.3 L109.1,240.3 L109.1,238.3 L109.1,236.3 L109.2,234.2 L109.2,232.1 L109.2,230.0 L109.2,227.9 L109.3,225.8 L109.3,223.6 L109.3,221.5 L109.3,219.4 L109.4,217.3 L109.4,215.1 L109.4,213.0 L109.4,211.0 L109.5,208.9 L109.5,206.8 L109.5,204.8 L109.6,202.8 L109.6,200.9 L109.6,199.0 L109.7,197.1 L109.7,195.2 L109.7,193.4 L109.8,191.7 L109.8,190.0 L109.8,188.3 L109.9,186.7 L109.9,185.1 L109.9,183.6 L110.0,182.0 L110.0,180.5 L110.0,179.1 L110.1,177.6 L110.1,176.2 L110.1,174.8 L110.2,173.4 L110.2,172.0 L110.2,170.7 L110.3,169.4 L110.3,168.1 L110.4,166.8 L110.4,165.5 L110.4,164.2 L110.5,163.0 L110.5,161.8 L110.6,160.6 L110.6,159.4 L110.6,158.2 L110.7,157.0 L110.7,155.8 L110.8,154.6 L110.8,153.5 L110.9,152.3 L110.9,151.2 L111.0,150.0 L111.1,148.9 L111.1,147.7 L111.2,146.6 L111.2,145.5 L111.3,144.4 L111.4,143.3 L111.4,142.2 L111.5,141.1 L111.6,140.1 L111.6,139.0 L111.7,138.0 L111.8,137.0 L111.8,136.0 L112.0,134.0 L112.1,132.1 L112.3,130.2 L112.4,128.4 L112.6,126.6 L112.8,125.0 L112.9,123.3 L113.1,121.8 L113.3,120.3 L113.5,118.8 L113.7,117.5 L113.8,116.2 L114.0,115.0 L114.2,113.9 L114.4,112.8 L114.6,111.8 L114.8,110.8 L115.2,109.4 L115.5,108.0 L115.8,106.7 L116.1,105.4 L116.4,104.2 L116.7,103.1 L117.0,102.0 L117.4,100.8 L117.8,99.6 L118.3,98.5 L118.7,97.4 L119.2,96.2 L119.5,95.3 L119.9,94.0 L120.3,92.8 L120.7,91.6 L121.1,90.4 L121.5,89.4 L122.0,88.5 L122.5,87.4 L123.2,86.4 L124.1,85.2 L124.8,84.4 L125.5,83.5 L126.3,82.6 L127.1,81.7 L128.0,80.7 L128.9,79.8 L129.8,78.8 L130.7,77.9 L131.6,77.0 L132.5,76.1 L133.4,75.3 L134.3,74.6 L135.1,73.9 L136.2,73.0 L137.2,72.3 L138.1,71.7 L139.1,71.3 L140.3,70.8 L141.4,70.4 L142.6,70.1 L143.8,69.8 L145.0,69.5 L146.2,69.2 L147.4,68.9 L148.5,68.7 L149.7,68.5 L151.0,68.4 L152.1,68.4 L153.2,68.5 L154.5,68.6 L156.0,68.9 L157.1,69.1 L158.3,69.4 L159.5,69.8 L160.9,70.1 L162.2,70.5 L163.6,70.9 L164.9,71.4 L166.3,71.8 L167.6,72.2 L168.9,72.7 L170.1,73.1 L171.3,73.5 L172.4,73.9 L173.3,74.2 L174.5,74.7 L175.6,75.1 L176.5,75.5 L177.6,76.0 L178.5,76.5 L179.4,77.0 L180.4,77.6 L181.4,78.2 L182.6,78.7 L183.6,79.3 L184.7,79.9 L185.8,80.5 L186.9,81.1 L187.9,81.6 L188.9,82.2 L190.0,82.8 L191.2,83.5 L192.1,84.1 L193.1,84.6 L194.2,85.2 L195.3,85.9 L196.5,86.5 L197.6,87.2 L198.8,87.9 L200.0,88.5 L201.1,89.2 L202.3,89.9 L203.4,90.5 L204.4,91.1 L205.4,91.7 L206.3,92.2 L207.5,93.0 L208.5,93.6 L209.5,94.2 L210.3,94.8 L211.3,95.4 L212.3,96.1 L213.2,96.7 L214.2,97.4 L215.3,98.2 L216.3,99.0 L217.4,99.8 L218.4,100.6 L219.5,101.4 L220.3,102.0 L221.1,102.6 L222.0,103.3 L223.0,104.0 L224.0,104.7 L225.1,105.4 L226.3,106.2 L227.6,107.0 L228.4,107.6 L229.2,108.1 L230.1,108.7 L231.3,109.5 L232.5,110.3 L233.7,111.0 L234.7,111.7 L235.6,112.3 L236.4,112.9 L237.5,113.6 L238.4,114.3 L239.2,115.0 L240.0,115.6 L241.0,116.4 L241.9,117.2 L242.6,117.9 L243.4,118.7 L244.1,119.5 L244.9,120.3 L245.6,121.1 L246.4,121.9 L247.3,122.7 L248.0,123.4 L248.8,124.1 L249.5,124.8 L250.4,125.6 L251.2,126.3 L252.0,127.1 L253.0,128.0 L254.1,129.0 L255.4,130.2 L256.8,131.4 L258.3,132.8 L259.1,133.5 L259.9,134.2 L260.7,135.0 L261.5,135.7 L262.4,136.5 L263.2,137.3 L264.1,138.0 L264.9,138.8 L265.8,139.6 L266.6,140.4 L267.5,141.1 L268.3,141.9 L269.1,142.6 L269.9,143.4 L270.7,144.1 L271.5,144.8 L272.3,145.5 L273.7,146.8 L275.0,148.0 L276.2,149.1 L277.4,150.3 L278.6,151.4 L279.8,152.4 L280.9,153.5 L281.9,154.5 L283.0,155.5 L284.0,156.4 L285.0,157.3 L285.9,158.2 L286.8,159.0 L287.7,159.8 L288.5,160.6 L289.3,161.3 L290.3,162.3 L291.3,163.1 L292.1,163.8 L293.0,164.5 L294.0,165.3 L294.9,165.9 L295.5,166.5" stroke="#08d219" stroke-dasharray="15.80 10.30 1.40 11.15" stroke-dashoffset="37.68"/>
<path d="M301.6,174.5 L302.5,175.5 L303.3,176.3 L304.1,177.3 L305.1,178.2 L306.0,179.2 L307.1,180.3 L308.2,181.4 L309.3,182.5 L310.4,183.7 L311.6,184.9 L312.8,186.1 L313.9,187.2 L315.1,188.4 L316.3,189.6 L317.4,190.8 L318.5,192.0 L319.6,193.2 L320.7,194.3 L321.8,195.5 L322.9,196.7 L324.0,197.9 L325.1,199.2 L326.2,200.4 L327.3,201.6 L328.4,202.9 L329.5,204.1 L330.6,205.3 L331.7,206.6 L332.8,207.8 L333.9,209.1 L335.0,210.3 L336.1,211.6 L337.3,212.9 L338.5,214.2 L339.7,215.6 L341.0,217.0 L342.2,218.4 L343.4,219.7 L344.6,221.1 L345.8,222.4 L346.9,223.7 L348.0,225.0 L349.1,226.1 L350.0,227.2 L350.9,228.3 L351.7,229.2 L352.4,230.0 L353.2,231.0 L353.9,231.8 L354.6,232.6 L355.2,233.5 L355.9,234.4 L356.6,235.4 L357.2,236.3 L358.1,237.5 L358.7,238.5 L359.4,239.5 L360.2,240.5 L360.9,241.6 L361.7,242.8 L362.5,244.0 L363.3,245.2 L364.1,246.4 L364.9,247.5 L365.7,248.6 L366.4,249.7 L367.1,250.7 L367.7,251.7 L368.3,252.5 L369.1,253.6 L369.7,254.6 L370.3,255.4 L371.1,256.4 L371.7,257.3 L372.3,258.1 L372.9,259.0 L373.5,260.0 L374.2,261.1 L374.8,262.2 L375.4,263.3 L375.9,264.5 L376.5,265.6 L376.9,266.5 L377.4,267.5 L377.9,268.5 L378.5,269.6 L379.1,270.7 L379.7,271.9 L380.4,273.1 L381.1,274.3 L381.8,275.6 L382.5,276.9 L383.2,278.2 L383.9,279.5 L384.6,280.8 L385.2,282.1 L385.8,283.5 L386.5,284.8 L386.9,285.7 L387.3,286.6 L387.7,287.5 L388.3,288.9 L388.8,290.3 L389.4,291.6 L389.9,292.9 L390.3,294.1 L390.7,295.3 L391.1,296.4 L391.4,297.4 L391.7,298.4 L392.0,299.4 L392.2,300.7 L392.5,301.9 L392.7,303.2 L392.9,304.5 L393.0,305.5 L393.0,306.5 L393.1,307.5 L393.1,308.6 L393.1,309.6 L393.0,310.7 L393.0,311.7 L392.9,312.7 L392.9,314.0 L392.8,315.3 L392.7,316.6 L392.7,317.8 L392.7,319.0 L392.6,320.1 L392.5,321.3 L392.3,322.4 L392.0,323.5 L391.6,324.6 L391.0,325.7 L390.4,326.7 L389.7,327.7 L389.0,328.7 L388.2,329.7 L387.4,330.7 L386.6,331.6 L385.8,332.6 L384.9,333.6 L384.0,334.6 L383.3,335.3 L382.6,336.0 L381.8,336.7 L381.1,337.4 L380.3,338.0 L379.4,338.6 L378.5,339.1 L377.6,339.7 L376.6,340.2 L375.6,340.6 L374.6,341.1 L373.5,341.5 L372.5,341.9 L371.5,342.3 L370.6,342.7 L369.4,343.1 L368.3,343.5 L367.3,343.8 L366.3,344.1 L365.4,344.4 L364.4,344.7 L363.3,345.0 L362.2,345.3 L361.0,345.7 L359.7,346.1 L358.8,346.4 L357.8,346.7 L356.8,347.1 L355.8,347.4 L354.8,347.7 L353.8,348.0 L352.8,348.2 L351.6,348.5 L350.4,348.8 L349.4,349.0 L348.3,349.1 L347.1,349.3 L345.7,349.5 L344.6,349.7 L343.3,349.8 L341.8,350.0 L340.7,350.2 L339.6,350.3 L338.4,350.5 L337.2,350.7 L335.9,350.9 L334.6,351.0 L333.2,351.2 L331.8,351.4 L330.4,351.6 L329.0,351.7 L327.6,351.9 L326.2,352.0 L324.7,352.2 L323.3,352.3 L321.9,352.4 L320.6,352.5 L319.3,352.6 L318.1,352.7 L316.8,352.8 L315.5,352.9 L314.2,353.0 L312.9,353.1 L311.4,353.2 L309.9,353.2 L308.2,353.3 L306.4,353.4 L304.5,353.5 L303.4,353.5 L302.3,353.5 L301.2,353.6 L300.0,353.6 L298.8,353.6 L297.5,353.7 L296.2,353.7 L294.8,353.7 L293.4,353.8 L292.0,353.8 L290.6,353.8 L289.1,353.9 L287.6,353.9 L286.1,353.9 L284.5,354.0 L282.9,354.0 L281.3,354.0 L279.6,354.0 L277.9,354.1 L276.2,354.1 L274.5,354.1 L272.7,354.1 L270.9,354.2 L269.1,354.2 L267.3,354.2 L265.5,354.2 L263.6,354.3 L261.7,354.3 L259.8,354.3 L257.9,354.3 L255.9,354.3 L254.0,354.4 L252.0,354.4 L250.0,354.4 L248.0,354.4 L245.9,354.4 L243.8,354.4 L241.7,354.5 L239.5,354.5 L237.3,354.5 L235.1,354.5 L232.8,354.5 L230.5,354.5 L228.2,354.5 L225.9,354.5 L223.5,354.5 L221.1,354.5 L218.7,354.5 L216.3,354.6 L213.9,354.6 L211.5,354.6 L209.0,354.6 L206.6,354.6 L204.2,354.6 L201.7,354.6 L199.3,354.6 L196.8,354.6 L194.4,354.6 L192.0,354.6 L189.5,354.6 L187.1,354.6 L184.7,354.6 L182.4,354.6 L180.0,354.6 L177.6,354.6 L175.1,354.6 L172.6,354.6 L170.0,354.6 L167.4,354.6 L164.7,354.6 L162.0,354.6 L159.3,354.6 L156.5,354.6 L153.7,354.6 L151.0,354.6 L148.2,354.6 L145.5,354.6 L142.8,354.6 L140.1,354.6 L137.4,354.6 L134.8,354.6 L132.3,354.6 L129.8,354.6 L127.4,354.6 L125.0,354.6 L122.8,354.6 L120.6,354.6 L118.6,354.6 L116.6,354.6 L114.8,354.6 L113.1,354.6 L111.6,354.6 L110.2,354.6 L108.9,354.6" stroke="#08d219" stroke-dasharray="15.80 10.30 1.40 11.10" stroke-dashoffset="30.32"/>
<path d="M301.2,174.0 L302.1,175.1" stroke="#08d219"/>
<path d="M108.7,354.6 L108.7,352.5 L108.7,351.3 L108.7,350.0 L108.7,348.6 L108.7,347.1 L108.7,345.5 L108.7,343.8 L108.7,342.1 L108.7,340.3 L108.7,338.4 L108.7,336.5 L108.7,334.5 L108.7,332.5 L108.7,330.4 L108.7,328.3 L108.7,326.2 L108.7,324.1 L108.7,322.0 L108.7,319.9 L108.7,317.8 L108.7,315.7 L108.7,313.6 L108.7,311.5 L108.7,309.5 L108.7,307.5 L108.7,305.5 L108.7,303.6 L108.7,301.8 L108.7,300.0 L108.7,298.3 L108.7,296.6 L108.7,294.9 L108.7,293.2 L108.7,291.5 L108.7,289.9 L108.7,288.2 L108.7,286.6 L108.7,285.0 L108.7,283.4 L108.7,281.8 L108.7,280.1 L108.7,278.5 L108.7,276.9 L108.7,275.3 L108.7,273.7 L108.7,272.1 L108.7,270.5 L108.7,268.9 L108.7,267.2 L108.7,265.6 L108.7,263.9 L108.7,262.3 L108.7,260.6 L108.7,258.9 L108.7,257.1 L108.7,255.4 L108.7,253.6 L108.7,251.8 L108.8,250.0 L108.8,248.1 L108.8,246.2 L108.8,244.3 L108.8,242.3 L108.8,240.2 L108.8,238.2 L108.8,236.1 L108.8,233.9 L108.8,231.8 L108.8,229.6 L108.8,227.5 L108.8,225.3 L108.8,223.1 L108.8,220.9 L108.8,218.8 L108.8,216.6 L108.8,214.4 L108.8,212.3 L108.8,210.2 L108.8,208.1 L108.8,206.1 L108.8,204.1 L108.8,202.2 L108.8,200.2 L108.8,198.4 L108.8,196.6 L108.8,194.8 L108.8,193.1 L108.8,191.5 L108.8,190.0 L108.9,188.5 L108.9,187.1 L108.9,185.8 L108.9,184.5 L108.9,183.3 L108.9,182.2 L108.9,181.0 L108.9,180.0 L108.9,179.0 L108.9,177.0 L108.9,175.2 L109.0,173.4 L109.0,171.8 L109.0,170.1 L109.0,168.4 L109.0,166.7 L109.1,164.9 L109.1,163.1 L109.1,161.1 L109.1,160.0 L109.1,158.9 L109.1,157.8 L109.1,156.7 L109.1,155.6 L109.1,154.5 L109.2,153.3 L109.2,152.2 L109.2,151.0 L109.2,149.9 L109.2,148.7 L109.2,147.5 L109.2,146.4 L109.2,145.2 L109.2,144.0 L109.2,142.8 L109.2,141.6 L109.2,140.4 L109.3,139.2 L109.3,138.0 L109.3,136.9 L109.3,135.7 L109.3,134.5 L109.3,133.3 L109.3,132.1 L109.3,130.9 L109.3,129.7 L109.4,128.5 L109.4,127.3 L109.4,126.2 L109.4,125.0 L109.4,123.8 L109.4,122.6 L109.4,121.4 L109.5,120.2 L109.5,118.9 L109.5,117.7 L109.5,116.4 L109.5,115.1 L109.6,113.8 L109.6,112.5 L109.6,111.2 L109.6,110.0 L109.6,108.7 L109.7,107.4 L109.7,106.1 L109.7,104.9 L109.7,103.7 L109.8,102.4 L109.8,101.2 L109.8,100.1 L109.8,98.9 L109.8,97.8 L109.9,96.7 L109.9,95.6 L109.9,94.6 L109.9,92.6 L110.0,90.8 L110.0,89.2 L110.1,87.8 L110.1,86.5 L110.1,85.4 L110.2,84.0 L110.2,82.7 L110.2,81.7 L110.3,80.3 L110.4,79.0 L110.4,77.9 L110.5,76.7 L110.6,75.4 L110.7,74.0 L110.8,72.6 L110.9,71.3 L111.0,69.9 L111.1,68.5 L111.2,67.2 L111.3,65.9 L111.5,64.6 L111.6,63.3 L111.7,62.1 L111.9,60.8 L112.0,59.6 L112.2,58.5 L112.4,57.3 L112.5,56.1 L112.7,55.0 L112.9,53.9 L113.1,52.8 L113.3,51.7 L113.5,50.6 L113.7,49.5 L114.0,48.5 L114.2,47.4 L114.5,46.4 L114.8,45.4 L115.0,44.4 L115.4,43.2 L115.8,42.0 L116.2,40.9 L116.6,39.8 L117.1,38.9 L117.6,38.0 L118.2,36.9 L118.8,35.9 L119.4,35.0 L120.0,34.2 L120.8,33.3 L121.5,32.6 L122.3,32.0 L123.2,31.4 L124.1,30.9 L125.0,30.5 L126.0,30.1 L127.0,29.9 L128.1,29.7 L129.2,29.6 L130.3,29.6 L131.5,29.6 L132.5,29.7 L133.5,29.9 L134.7,30.1 L135.8,30.4 L136.8,30.7 L137.8,31.0 L138.8,31.4 L139.9,31.8 L140.9,32.2 L142.0,32.6 L143.0,33.1 L144.1,33.6 L145.2,34.1 L146.2,34.6 L147.4,35.2 L148.5,35.8 L149.4,36.3 L150.3,36.9 L151.3,37.5 L152.3,38.1 L153.3,38.8 L154.3,39.4 L155.3,40.1 L156.4,40.8 L157.4,41.5 L158.4,42.2 L159.4,42.9 L160.3,43.5 L161.2,44.1 L162.2,44.8 L163.2,45.4 L164.2,46.1 L165.2,46.8 L166.0,47.4 L167.0,48.0 L167.9,48.7 L169.0,49.5 L170.2,50.4 L171.0,51.0 L171.8,51.6 L172.7,52.3 L173.6,53.0 L174.5,53.6 L175.4,54.3 L176.3,55.1 L177.3,55.8 L178.2,56.6 L179.2,57.4 L180.2,58.2 L181.2,59.0 L182.2,59.8 L183.2,60.7 L184.3,61.6 L185.4,62.5 L186.4,63.5 L187.5,64.5 L188.7,65.5 L189.8,66.5 L190.9,67.5 L192.1,68.5 L193.2,69.6 L194.4,70.6 L195.5,71.6 L196.6,72.6 L197.7,73.6 L198.9,74.6 L200.0,75.6 L201.2,76.6 L202.3,77.7 L203.5,78.7 L204.7,79.7 L205.9,80.8 L207.1,81.8 L208.2,82.8 L209.4,83.9 L210.5,84.8 L211.6,85.8 L212.6,86.7 L213.6,87.6 L214.5,88.4 L215.4,89.2 L216.2,89.9 L217.3,90.8 L218.3,91.6 L219.2,92.4 L220.0,93.1 L220.8,93.8 L221.7,94.6 L222.7,95.4 L223.8,96.4 L224.6,97.1 L225.5,97.9 L226.4,98.8 L227.4,99.7 L228.4,100.6 L229.5,101.6 L230.6,102.7 L231.8,103.7 L232.9,104.8 L234.1,105.9 L235.3,107.0 L236.5,108.1 L237.7,109.2 L238.8,110.3 L240.0,111.4 L241.1,112.5 L242.3,113.5 L243.4,114.6 L244.5,115.6 L245.6,116.7 L246.7,117.7 L247.8,118.7 L248.9,119.8 L250.0,120.8 L251.1,121.9 L252.2,122.9 L253.3,124.0 L254.4,125.1 L255.5,126.1 L256.6,127.2 L257.7,128.3 L258.9,129.3 L260.0,130.4 L261.1,131.5 L262.2,132.6 L263.4,133.8 L264.5,134.9 L265.6,136.0 L266.8,137.1 L267.9,138.2 L269.0,139.3 L270.1,140.4 L271.2,141.5 L272.3,142.6 L273.4,143.7 L274.5,144.7 L275.5,145.7 L276.6,146.8 L277.8,147.8 L278.9,148.9 L280.1,150.0 L281.3,151.1 L282.4,152.2 L283.5,153.2 L284.6,154.2 L285.7,155.2 L286.7,156.1 L287.6,156.9 L288.4,157.7 L289.4,158.7 L290.0,159.2" stroke="#ff0000" stroke-width="3.45" stroke-linecap="butt"/>
<path d="M304.2,174.2 L305.1,175.2 L305.9,176.0 L306.8,176.9 L307.7,177.9 L308.8,179.0 L309.9,180.1 L311.0,181.3 L312.2,182.6 L313.4,183.9 L314.7,185.2 L315.9,186.5 L317.1,187.7 L318.3,189.0 L319.4,190.2 L320.6,191.4 L321.7,192.6 L322.8,193.8 L323.9,195.0 L325.1,196.2 L326.2,197.4 L327.4,198.6 L328.5,199.9 L329.7,201.1 L330.8,202.3 L332.0,203.6 L333.2,204.8 L334.3,206.1 L335.5,207.3 L336.6,208.6 L337.8,209.8 L338.9,211.1 L340.1,212.3 L341.2,213.6 L342.4,214.8 L343.5,216.1 L344.7,217.3 L345.8,218.6 L347.0,219.8 L348.2,221.1 L349.3,222.4 L350.5,223.6 L351.6,224.9 L352.8,226.1 L353.9,227.4 L355.1,228.6 L356.2,229.9 L357.4,231.1 L358.6,232.4 L359.7,233.6 L360.9,234.9 L362.0,236.1 L363.2,237.4 L364.4,238.6 L365.5,239.9 L366.7,241.1 L367.8,242.4 L369.0,243.6 L370.1,244.8 L371.2,246.1 L372.4,247.3 L373.5,248.6 L374.6,249.8 L375.7,251.1 L376.8,252.3 L378.0,253.6 L379.1,254.8 L380.2,256.1 L381.3,257.3 L382.4,258.5 L383.4,259.7 L384.5,260.9 L385.6,262.1 L386.6,263.3 L387.7,264.4 L388.7,265.6 L389.7,266.7 L390.8,267.8 L391.8,268.9 L392.8,270.0 L393.8,271.0 L394.8,272.1 L395.8,273.1 L396.8,274.2 L397.8,275.2 L398.7,276.2 L399.7,277.2 L400.6,278.2 L401.5,279.1 L402.4,280.0 L403.2,281.0 L404.1,281.8 L404.9,282.7 L405.6,283.5 L406.4,284.3 L407.2,285.1 L407.9,285.9 L408.6,286.7 L409.3,287.5 L410.0,288.2 L410.7,289.0 L411.4,289.8 L412.1,290.5 L412.8,291.3 L413.5,292.1 L414.1,292.9 L414.8,293.7 L415.5,294.5 L416.2,295.3 L416.8,296.1 L417.5,296.9 L418.1,297.8 L418.8,298.6 L419.4,299.4 L420.0,300.2 L420.6,301.0 L421.2,301.9 L421.8,302.7 L422.4,303.5 L423.0,304.4 L423.6,305.2 L424.2,306.1 L424.7,307.0 L425.3,307.9 L425.9,308.7 L426.4,309.6 L427.0,310.5 L427.5,311.4 L428.1,312.4 L428.6,313.2 L429.1,314.1 L429.8,315.5 L430.4,316.7 L431.0,318.0 L431.5,319.2 L432.0,320.5 L432.4,321.7 L432.8,322.9 L433.1,324.1 L433.4,325.3 L433.6,326.4 L433.9,327.5 L434.0,328.5 L434.2,329.8 L434.4,331.0 L434.5,332.1 L434.4,333.3 L434.3,334.5 L434.2,335.6 L433.9,336.8 L433.6,337.7 L433.2,338.7 L432.8,339.7 L432.3,340.6 L431.8,341.6 L431.2,342.4 L430.5,343.2 L429.8,344.0 L428.9,344.8 L428.0,345.4 L426.9,346.0 L426.0,346.5 L425.0,346.9 L423.9,347.4 L422.7,347.8 L421.7,348.2 L420.7,348.5 L419.6,348.9 L418.5,349.2 L417.3,349.5 L416.1,349.9 L414.9,350.2 L413.6,350.5 L412.4,350.7 L411.2,351.0 L409.9,351.2 L408.7,351.4 L407.4,351.6 L406.1,351.7 L404.8,351.9 L403.4,352.0 L402.0,352.2 L400.6,352.3 L399.1,352.5 L398.1,352.5 L397.1,352.6 L396.0,352.7 L394.9,352.8 L393.9,352.9 L392.8,352.9 L391.6,353.0 L390.5,353.1 L389.3,353.1 L388.2,353.2 L387.0,353.2 L385.8,353.3 L384.6,353.4 L383.3,353.4 L382.0,353.5 L380.8,353.5 L379.5,353.6 L378.2,353.6 L376.9,353.7 L375.6,353.7 L374.2,353.8 L372.9,353.8 L371.5,353.9 L370.1,353.9 L368.7,353.9 L367.2,354.0 L365.7,354.0 L364.1,354.1 L362.5,354.1 L360.8,354.1 L359.2,354.2 L357.6,354.2 L356.1,354.2 L354.6,354.3 L353.2,354.3 L351.8,354.3 L350.3,354.3 L348.7,354.4 L346.9,354.4 L345.0,354.4 L344.0,354.4 L342.9,354.4 L341.8,354.4 L340.6,354.4 L339.3,354.5 L338.0,354.5 L336.6,354.5 L335.1,354.5 L333.5,354.5 L331.8,354.5 L330.0,354.5 L328.1,354.5 L326.1,354.5 L324.0,354.5 L321.8,354.5 L319.4,354.5 L317.0,354.5 L314.6,354.5 L312.0,354.5 L309.4,354.6 L306.7,354.6 L303.9,354.6 L301.1,354.6 L298.3,354.6 L295.4,354.6 L292.5,354.6 L289.6,354.6 L286.6,354.6 L283.7,354.6 L280.7,354.6 L277.8,354.6 L274.8,354.6 L271.9,354.6 L269.0,354.6 L266.2,354.6 L263.3,354.6 L260.6,354.6 L257.8,354.6 L255.1,354.6 L252.5,354.6 L250.0,354.6 L247.5,354.6 L245.0,354.6 L242.6,354.6 L240.2,354.6 L237.8,354.6 L235.4,354.6 L233.0,354.6 L230.7,354.6 L228.3,354.6 L226.0,354.6 L223.7,354.6 L221.3,354.6 L219.0,354.6 L216.7,354.6 L214.5,354.6 L212.2,354.6 L209.9,354.6 L207.6,354.6 L205.3,354.6 L203.1,354.6 L200.8,354.6 L198.5,354.6 L196.2,354.6 L193.9,354.6 L191.6,354.6 L189.3,354.6 L187.0,354.6 L184.7,354.6 L182.3,354.6 L180.0,354.6 L177.6,354.6 L175.1,354.6 L172.6,354.6 L170.0,354.6 L167.4,354.6 L164.7,354.6 L162.0,354.6 L159.2,354.6 L156.5,354.6 L153.7,354.6 L150.9,354.6 L148.2,354.6 L145.4,354.6 L142.7,354.6 L140.0,354.6 L137.3,354.6 L134.7,354.6 L132.1,354.6 L129.7,354.6 L127.2,354.6 L124.9,354.6 L122.6,354.6 L120.5,354.6 L118.4,354.6 L116.5,354.6 L114.6,354.6 L112.9,354.6 L111.4,354.6 L110.0,354.6 L108.7,354.6" stroke="#ff0000" stroke-width="3.45" stroke-linecap="butt"/>
</g>
<path d="M98.6,352.0 L108.5,352.9 L108.5,355.2 Z" fill="#0000ff"/>
<path d="M108.3,355 L110.9,355 L111.9,365 Z" fill="#0000ff"/>
<g stroke="#000" stroke-width="1" fill="none">
<line x1="108.5" y1="1.5" x2="108.5" y2="355.5"/>
<line x1="461.5" y1="1.5" x2="461.5" y2="355.5"/>
<line x1="108.0" y1="2.0" x2="462.0" y2="2.0"/>
<line x1="108.0" y1="355.0" x2="462.0" y2="355.0"/>
</g>
<g font-size="20.4" fill="#000">
<text x="112.00" y="380.2" text-anchor="middle">0</text>
<text x="98.4" y="361.35" text-anchor="end">0</text>
<text x="190.94" y="380.2" text-anchor="middle">0.02</text>
<text x="100.5" y="282.91" text-anchor="end">0.02</text>
<text x="269.39" y="380.2" text-anchor="middle">0.04</text>
<text x="100.5" y="204.46" text-anchor="end">0.04</text>
<text x="347.83" y="380.2" text-anchor="middle">0.06</text>
<text x="100.5" y="126.02" text-anchor="end">0.06</text>
<text x="426.28" y="380.2" text-anchor="middle">0.08</text>
<text x="100.5" y="47.57" text-anchor="end">0.08</text>
</g>
<g fill="#000">
<text transform="translate(245.6,410.2) scale(1.05,1)" font-size="27.0" style="font-weight:normal">ρ</text>
<text transform="translate(260.1,416.6) scale(0.96,1)" font-size="22.0">n</text>
<text transform="translate(279.0,409.9) scale(1.025,1)" font-size="27.3">(fm</text>
<text transform="translate(316.2,399.2) scale(1.15,1)" font-size="20.0">−</text>
<text transform="translate(328.2,397.5) scale(1.07,1)" font-size="20.2">3</text>
<text transform="translate(344.5,409.9) scale(1.025,1)" font-size="27.3">)</text>
</g>
<g fill="#000" transform="translate(27.9,217.2) rotate(-90)">
<text transform="translate(0,0) scale(1.05,1)" font-size="27.0" style="font-weight:normal">ρ</text>
<text transform="translate(13.4,7.3) scale(0.96,1)" font-size="22.0">p</text>
<text transform="translate(32.7,0) scale(1.025,1)" font-size="27.3">(fm</text>
<text transform="translate(73.6,-10.2) scale(1.0,1)" font-size="20.0">−</text>
<text transform="translate(85.1,-12.4) scale(1.07,1)" font-size="21.5">3</text>
<text transform="translate(98.4,0) scale(1.025,1)" font-size="27.3">)</text>
</g>
<g font-size="21.1" stroke-width="0.25">
<text transform="translate(329.0,36.4) scale(0.975,1)" text-anchor="end" fill="#0000ff" stroke="#0000ff">QMC</text><text transform="translate(328.4,36.4) scale(1.0,1)" fill="#0000ff" stroke="none" style="font-family:'Liberation Serif',serif;font-weight:normal" font-size="24.3">δ</text>
<text transform="translate(340.9,57.0) scale(0.975,1)" text-anchor="end" fill="#c0640f" stroke="#c0640f">QMC</text>
<text transform="translate(340.7,80.2) scale(0.975,1)" text-anchor="end" fill="#008c14" stroke="#008c14">NL3</text>
<text transform="translate(331.8,103.3) scale(0.975,1)" text-anchor="end" fill="#08d219" stroke="#08d219">NL3</text><text transform="translate(331.2,103.3) scale(1.0,1)" fill="#08d219" stroke="none" style="font-family:'Liberation Serif',serif;font-weight:normal" font-size="24.3">δ</text>
<text transform="translate(340.0,125.6) scale(0.975,1)" text-anchor="end" fill="#ff0000" stroke="#ff0000">TW</text>
</g>
<g fill="none" stroke-width="3.7" stroke-linecap="round">
<path d="M350.0,30.5 H430" stroke="#0000ff" stroke-dasharray="1.4 11.05"/>
<path d="M349.7,52.2 H374.6 M386.9,52.2 h1.4 M397.6,52.2 h1.4 M411,52.2 H431.1" stroke="#c0640f"/>
<path d="M350.6,73.4 H426" stroke="#008c14" stroke-dasharray="9.9 11.6"/>
<path d="M352.1,97.0 H368.9 M379.1,97.0 h1.4 M390.2,97.0 H407.6 M417.5,97.0 h1.4 M428.5,97.0 H434.3" stroke="#08d219"/>
<path d="M349.5,120.6 H430.1" stroke="#ff0000" stroke-width="3.45" stroke-linecap="butt"/>
</g>
</svg></div></body></html>
